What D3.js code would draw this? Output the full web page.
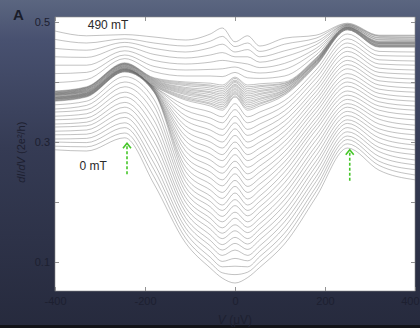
<!DOCTYPE html>
<html>
<head>
<meta charset="utf-8">
<script src="https://cdn.jsdelivr.net/npm/d3@7"></script>
<style>
  html, body { margin: 0; padding: 0; background: #2c3146; }
  svg { display: block; }
</style>
</head>
<body>
<svg id="chart" width="420" height="328"></svg>
<script>
// magnetic field of each trace (mT), bottom trace first
const fieldsMT = [0, 10, 20, 30, 40, 50, 60, 70, 80, 90, 100, 110, 120, 130, 140, 150, 160, 170, 180, 190,
  200, 210, 220, 230, 240, 250, 260, 270, 280, 290, 300, 310, 320, 330, 340, 350, 360, 370, 380, 390,
  400, 410, 420, 430, 440, 450, 460, 470, 480, 490];

// bias voltages (uV) where the traces were read
const biasUV = [-400, -330, -245, -180, -110, -55, -28, 0, 28, 55, 110, 180, 250, 320, 400];

// dI/dV (2e^2/h, as plotted) - one row per bias, one column per field
const dIdV = [
  [.287,.293,.300,.305,.312,.318,.325,.330,.337,.343,.350,.355,.362,.368,.369,.369,.370,.371,.371,.372,.372,.373,.373,.374,.374,.375,.375,.376,.377,.378,.378,.379,.379,.380,.380,.381,.381,.382,.382,.383,.384,.384,.385,.399,.414,.428,.442,.456,.471,.485],
  [.285,.292,.299,.306,.313,.320,.327,.333,.340,.347,.354,.361,.368,.375,.376,.376,.377,.377,.378,.378,.379,.379,.380,.380,.381,.381,.382,.382,.383,.384,.384,.385,.386,.386,.387,.388,.388,.389,.390,.390,.391,.391,.392,.404,.416,.428,.441,.453,.465,.477],
  [.307,.315,.324,.332,.341,.349,.358,.366,.375,.383,.392,.400,.409,.417,.417,.418,.418,.419,.419,.419,.420,.420,.421,.421,.421,.422,.422,.423,.423,.424,.425,.425,.426,.427,.427,.428,.429,.429,.430,.430,.431,.431,.432,.439,.445,.452,.459,.466,.472,.479],
  [.230,.242,.254,.265,.277,.289,.301,.312,.324,.336,.348,.360,.371,.383,.384,.384,.385,.386,.386,.387,.388,.388,.389,.390,.390,.391,.392,.392,.393,.394,.395,.396,.397,.398,.399,.400,.401,.402,.403,.404,.405,.406,.407,.417,.426,.436,.446,.456,.465,.475],
  [.132,.140,.149,.157,.166,.174,.183,.191,.200,.208,.217,.225,.234,.242,.251,.259,.268,.276,.285,.293,.302,.310,.319,.327,.336,.344,.353,.361,.370,.372,.374,.376,.379,.381,.383,.385,.387,.389,.391,.394,.396,.398,.400,.410,.420,.430,.440,.450,.460,.470],
  [.090,.099,.108,.118,.127,.136,.145,.155,.164,.173,.182,.192,.201,.210,.220,.230,.240,.250,.260,.270,.280,.290,.300,.310,.320,.330,.340,.350,.360,.363,.365,.368,.371,.374,.376,.379,.382,.384,.387,.390,.393,.395,.398,.410,.421,.433,.445,.457,.468,.480],
  [.073,.082,.092,.101,.111,.120,.129,.139,.148,.157,.167,.176,.186,.195,.206,.216,.227,.237,.248,.258,.269,.279,.290,.300,.311,.321,.332,.342,.353,.356,.359,.362,.365,.368,.371,.374,.377,.380,.383,.386,.389,.392,.395,.409,.422,.436,.449,.463,.476,.490],
  [.065,.079,.093,.106,.120,.131,.141,.152,.162,.173,.183,.194,.204,.215,.226,.236,.247,.258,.268,.279,.290,.300,.311,.322,.332,.343,.354,.364,.375,.377,.380,.382,.384,.387,.389,.392,.394,.396,.399,.401,.403,.406,.408,.416,.425,.433,.442,.450,.459,.467],
  [.074,.083,.092,.102,.111,.121,.130,.139,.149,.158,.167,.177,.186,.195,.205,.216,.226,.237,.247,.258,.269,.279,.290,.300,.311,.321,.332,.342,.353,.356,.359,.362,.365,.368,.371,.374,.377,.380,.383,.386,.389,.392,.395,.407,.418,.430,.442,.454,.465,.477],
  [.091,.100,.109,.118,.127,.137,.146,.155,.164,.173,.183,.192,.201,.210,.220,.230,.240,.250,.260,.270,.280,.290,.300,.310,.320,.330,.340,.350,.360,.363,.365,.368,.371,.373,.376,.379,.381,.384,.386,.389,.392,.394,.397,.406,.415,.424,.433,.442,.451,.460],
  [.130,.139,.148,.158,.167,.176,.185,.195,.204,.213,.222,.232,.241,.250,.259,.267,.276,.284,.293,.301,.310,.318,.327,.335,.344,.352,.361,.369,.378,.380,.381,.383,.384,.386,.387,.389,.391,.392,.394,.395,.397,.398,.400,.410,.421,.431,.442,.452,.463,.473],
  [.208,.217,.225,.234,.242,.251,.260,.268,.277,.286,.294,.303,.311,.320,.327,.334,.341,.349,.356,.363,.370,.377,.384,.391,.398,.406,.413,.420,.427,.428,.429,.430,.431,.432,.433,.434,.434,.435,.436,.437,.438,.439,.440,.445,.451,.456,.462,.467,.473,.478],
  [.290,.297,.304,.310,.317,.324,.331,.337,.344,.351,.358,.364,.371,.378,.385,.393,.400,.407,.414,.422,.429,.436,.443,.451,.458,.465,.472,.480,.487,.487,.488,.488,.489,.489,.489,.490,.490,.491,.491,.491,.492,.492,.493,.494,.494,.495,.496,.496,.497,.498],
  [.253,.261,.268,.276,.284,.291,.299,.307,.315,.322,.330,.338,.345,.353,.360,.367,.374,.381,.388,.395,.402,.409,.416,.423,.430,.437,.444,.451,.458,.459,.459,.460,.461,.461,.462,.463,.464,.464,.465,.466,.466,.467,.468,.470,.471,.473,.474,.476,.477,.478],
  [.237,.245,.254,.262,.270,.279,.287,.295,.303,.312,.320,.328,.337,.345,.353,.360,.368,.375,.383,.390,.398,.405,.413,.420,.428,.435,.443,.450,.458,.459,.459,.460,.461,.461,.462,.463,.464,.464,.465,.466,.466,.467,.468,.469,.471,.472,.474,.475,.477,.478]
];

const xTicks = [-400, -200, 0, 200, 400];
const yTicks = [0.1, 0.2, 0.3, 0.4, 0.5];
const yTickLabels = ['0.1', '', '0.3', '', '0.5'];

// gap-edge arrows: bias, tip value, tail value
const arrowBias = [-240, 255];
const arrowTip = [0.298, 0.287];
const arrowTail = [0.243, 0.232];

const W = 420, H = 328;
const plot = { left: 55, right: 415, top: 17, bottom: 291 };

const svg = d3.select('#chart');
const defs = svg.append('defs');

const bg = defs.append('linearGradient')
  .attr('id', 'bg')
  .attr('x1', 0).attr('y1', 0).attr('x2', 0).attr('y2', 1);
bg.append('stop').attr('offset', '0%').attr('stop-color', '#5b6680');
bg.append('stop').attr('offset', '12%').attr('stop-color', '#485170');
bg.append('stop').attr('offset', '45%').attr('stop-color', '#353b54');
bg.append('stop').attr('offset', '100%').attr('stop-color', '#262a3d');

defs.append('clipPath').attr('id', 'plot-clip')
  .append('rect')
  .attr('x', plot.left).attr('y', plot.top)
  .attr('width', plot.right - plot.left)
  .attr('height', plot.bottom - plot.top);

svg.append('rect').attr('width', W).attr('height', H).attr('fill', 'url(#bg)');
svg.append('rect').attr('y', H - 3).attr('width', W).attr('height', 3).attr('fill', '#121318');

svg.append('rect')
  .attr('x', plot.left).attr('y', plot.top)
  .attr('width', plot.right - plot.left)
  .attr('height', plot.bottom - plot.top)
  .attr('fill', '#ffffff');

const xScale = d3.scaleLinear().domain([-400, 400]).range([plot.left, plot.right]);
const yScale = d3.scaleLinear().domain([0.1, 0.5]).range([262, 22]);

// traces
const traces = fieldsMT.map((b, k) => biasUV.map((v, i) => ({ v, g: dIdV[i][k] })));

const line = d3.line()
  .x(d => xScale(d.v))
  .y(d => yScale(d.g))
  .curve(d3.curveMonotoneX);

svg.append('g')
  .attr('clip-path', 'url(#plot-clip)')
  .selectAll('path')
  .data(traces)
  .join('path')
  .attr('d', line)
  .attr('fill', 'none')
  .attr('stroke', '#6c6c6c')
  .attr('stroke-opacity', 0.7)
  .attr('stroke-width', 0.6);

// axes
const tickColor = '#777';
const labelColor = '#1d2030';
const font = '"Liberation Sans", Arial, sans-serif';

function styleAxis(g) {
  g.select('.domain').remove();
  g.selectAll('.tick line').attr('stroke', tickColor).attr('stroke-width', 0.8);
  g.selectAll('.tick text')
    .attr('fill', labelColor)
    .style('font-family', font)
    .style('font-size', '11px');
}

const xAxisG = svg.append('g')
  .attr('transform', `translate(0,${plot.bottom})`)
  .call(d3.axisBottom(xScale).tickValues(xTicks).tickSize(-4).tickPadding(6)
    .tickFormat(d => String(d)))
  .call(styleAxis);

// last label would run past the window edge
xAxisG.selectAll('.tick text')
  .filter(d => d === 400)
  .attr('text-anchor', 'end')
  .attr('x', 4);

svg.append('g')
  .attr('transform', `translate(0,${plot.top})`)
  .call(d3.axisTop(xScale).tickValues(xTicks).tickSize(-4).tickFormat(''))
  .call(styleAxis);

svg.append('g')
  .attr('transform', `translate(${plot.left},0)`)
  .call(d3.axisLeft(yScale).tickValues(yTicks).tickSize(-4).tickPadding(5)
    .tickFormat((d, i) => yTickLabels[i]))
  .call(styleAxis);

svg.append('g')
  .attr('transform', `translate(${plot.right},0)`)
  .call(d3.axisRight(yScale).tickValues(yTicks).tickSize(-4).tickFormat(''))
  .call(styleAxis);

svg.append('rect')
  .attr('x', plot.left).attr('y', plot.top)
  .attr('width', plot.right - plot.left)
  .attr('height', plot.bottom - plot.top)
  .attr('fill', 'none')
  .attr('stroke', '#8a8a8a')
  .attr('stroke-width', 0.6);

// axis titles
const xTitle = svg.append('text')
  .attr('x', xScale(0))
  .attr('y', 324)
  .attr('text-anchor', 'middle')
  .attr('fill', labelColor)
  .style('font-family', font)
  .style('font-size', '12px');
xTitle.append('tspan').attr('font-style', 'italic').text('V');
xTitle.append('tspan').text(' (\u03bcV)');

const yTitle = svg.append('text')
  .attr('transform', `translate(25,${yScale(0.283)}) rotate(-90)`)
  .attr('text-anchor', 'middle')
  .attr('fill', labelColor)
  .style('font-family', font)
  .style('font-size', '11px');
yTitle.append('tspan').attr('font-style', 'italic').text('dI');
yTitle.append('tspan').text('/');
yTitle.append('tspan').attr('font-style', 'italic').text('dV');
yTitle.append('tspan').text(' (2e\u00b2/h)');

// panel letter
svg.append('text')
  .attr('x', 13).attr('y', 20)
  .attr('fill', '#1a1d2a')
  .style('font-family', font)
  .style('font-size', '15px')
  .style('font-weight', 'bold')
  .text('A');

// trace labels
svg.append('text')
  .attr('x', xScale(-282)).attr('y', yScale(0.489))
  .attr('text-anchor', 'middle')
  .attr('fill', '#2a2a2a')
  .style('font-family', font)
  .style('font-size', '12px')
  .text('490 mT');

svg.append('text')
  .attr('x', xScale(-315)).attr('y', yScale(0.253))
  .attr('text-anchor', 'middle')
  .attr('fill', '#2a2a2a')
  .style('font-family', font)
  .style('font-size', '12px')
  .text('0 mT');

// green arrows
const arrows = svg.append('g')
  .attr('stroke', '#45c628')
  .attr('stroke-width', 1.6)
  .attr('fill', 'none');

arrowBias.forEach((v, i) => {
  const x = xScale(v);
  const yTip = yScale(arrowTip[i]);
  const yTail = yScale(arrowTail[i]);
  arrows.append('line')
    .attr('x1', x).attr('x2', x)
    .attr('y1', yTip + 3).attr('y2', yTail)
    .attr('stroke-dasharray', '3,2');
  arrows.append('path')
    .attr('d', `M${x - 4},${yTip + 5}L${x},${yTip}L${x + 4},${yTip + 5}`);
});
</script>
</body>
</html>
